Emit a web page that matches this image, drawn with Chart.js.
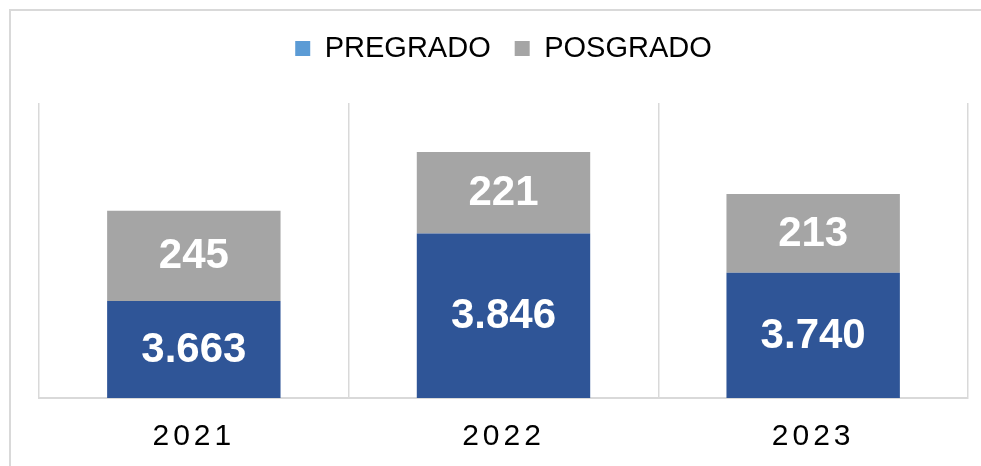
<!DOCTYPE html>
<html>
<head>
<meta charset="utf-8">
<script src="https://cdn.jsdelivr.net/npm/chart.js@4"></script>
<style>
  html, body { margin: 0; padding: 0; background: #fff; overflow: hidden; }
  #wrap { width: 981px; height: 466px; position: relative; }
</style>
</head>
<body>
<div id="wrap"><canvas id="grafico"></canvas></div>
<script>
// Datos
const anios     = ["2021", "2022", "2023"];
const pregrado  = [3663, 3846, 3740];
const posgrado  = [245, 221, 213];
const ejeMin = 3400;
const ejeMax = 4200;

const azul = "#2F5597";
const gris = "#A5A5A5";
const coloresLeyenda = ["#5B9BD5", "#A5A5A5"];

// formato con punto de miles (3.663)
function fmt(v) {
  return String(v).replace(/\B(?=(\d{3})+(?!\d))/g, ".");
}

// marco exterior gris
const marco = {
  id: "marco",
  beforeDraw(chart) {
    const ctx = chart.ctx;
    ctx.save();
    ctx.strokeStyle = "#D9D9D9";
    ctx.lineWidth = 2;
    ctx.beginPath();
    ctx.moveTo(10, 1000);
    ctx.lineTo(10, 10);
    ctx.lineTo(1000, 10);
    ctx.stroke();
    ctx.restore();

    // espaciado de letras en los años
    const sx = chart.scales.x;
    if (sx && !sx._espaciado) {
      const orig = sx.drawLabels;
      sx.drawLabels = function (area) {
        const prev = this.ctx.letterSpacing;
        this.ctx.letterSpacing = "4px";
        orig.call(this, area);
        this.ctx.letterSpacing = prev || "0px";
      };
      sx._espaciado = true;
    }
  }
};

// altura extra de la leyenda (el área del gráfico empieza en y=103)
const margenArriba = 10;
const leyendaAlta = {
  id: "leyendaAlta",
  beforeInit(chart) {
    const fitOrig = chart.legend.fit;
    chart.legend.fit = function () {
      fitOrig.call(this);
      this.height = 103 - margenArriba;
    };
  }
};

// etiquetas blancas dentro de las barras
const etiquetas = {
  id: "etiquetas",
  afterDatasetsDraw(chart) {
    const ctx = chart.ctx;
    const abajo = chart.chartArea.bottom;
    ctx.save();
    ctx.fillStyle = "#FFFFFF";
    ctx.font = "bold 42px 'Liberation Sans', Arial, sans-serif";
    ctx.textAlign = "center";
    ctx.textBaseline = "middle";
    chart.data.datasets.forEach((ds, i) => {
      const meta = chart.getDatasetMeta(i);
      meta.data.forEach((bar, j) => {
        const p = bar.getProps(["x", "y", "base"], true);
        const base = Math.min(p.base, abajo);
        ctx.fillText(fmt(ds.data[j]), p.x, (p.y + base) / 2 + 1);
      });
    });
    ctx.restore();
  }
};

const ctx = document.getElementById("grafico").getContext("2d");

new Chart(ctx, {
  type: "bar",
  data: {
    labels: anios,
    datasets: [
      {
        label: "PREGRADO",
        data: pregrado,
        backgroundColor: azul,
        borderWidth: 0,
        barPercentage: 0.56,
        categoryPercentage: 1
      },
      {
        label: "POSGRADO",
        data: posgrado,
        backgroundColor: gris,
        borderWidth: 0,
        barPercentage: 0.56,
        categoryPercentage: 1
      }
    ]
  },
  options: {
    responsive: true,
    maintainAspectRatio: false,
    animation: false,
    layout: {
      padding: { top: margenArriba, left: 39, right: 13, bottom: 11 }
    },
    plugins: {
      tooltip: { enabled: false },
      legend: {
        position: "top",
        labels: {
          boxWidth: 15,
          boxHeight: 15,
          padding: 24,
          color: "#000",
          font: { family: "'Liberation Sans', Arial, sans-serif", size: 29 },
          generateLabels(chart) {
            const items = Chart.defaults.plugins.legend.labels.generateLabels(chart);
            items.forEach((it, i) => {
              it.fillStyle = coloresLeyenda[i];
              it.strokeStyle = coloresLeyenda[i];
              it.lineWidth = 0;
            });
            return items;
          }
        }
      }
    },
    scales: {
      x: {
        stacked: true,
        afterFit(scale) {
          scale.height = 57;
        },
        grid: {
          color: "#D9D9D9",
          lineWidth: 1.5,
          drawTicks: false,
          offset: true
        },
        border: { color: "#D9D9D9", width: 2 },
        ticks: {
          color: "#000",
          padding: 21,
          font: { family: "'Liberation Sans', Arial, sans-serif", size: 30 }
        }
      },
      y: {
        stacked: true,
        display: false,
        min: ejeMin,
        max: ejeMax
      }
    }
  },
  plugins: [marco, leyendaAlta, etiquetas]
});
</script>
</body>
</html>
